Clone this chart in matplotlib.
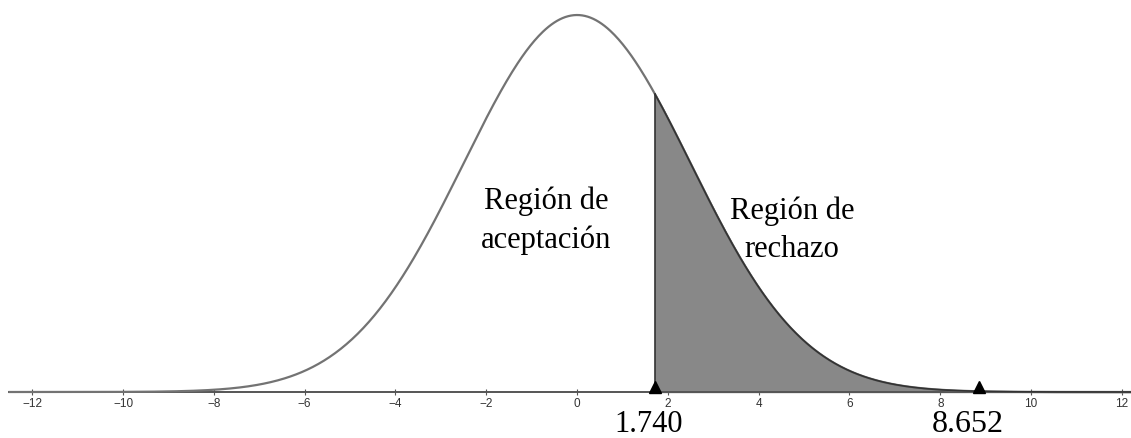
# Normal curve with acceptance / rejection regions
import numpy as np
import matplotlib.pyplot as plt
from matplotlib.transforms import offset_copy

mu = 0.0
sigma = 2.5
x_crit = 1.72      # position of the left marker
x_obs = 8.85       # position of the right marker
crit_label = "1.740"
obs_label = "8.652"
ticks = list(range(-12, 13, 2))

x = np.linspace(-12.5, 12.2, 800)
y = np.exp(-0.5 * ((x - mu) / sigma) ** 2) / (sigma * np.sqrt(2 * np.pi))

fig = plt.figure(figsize=(11.31, 4.39), dpi=100)
ax = fig.add_axes([0, 0, 1, 1])
ax.set_xlim(-12.71, 12.20)
ax.set_ylim(-0.01947, 0.16636)

# curve
ax.plot(x, y, color="#737373", linewidth=1.6, zorder=3)

# shaded rejection region
mask = x >= x_crit
ax.fill_between(x[mask], 0, y[mask], color="#888888", zorder=2)
ax.plot(x[mask], y[mask], color="#333333", linewidth=1.2, zorder=4)
ax.plot([x_crit, x_crit], [0, np.interp(x_crit, x, y)], color="#333333", linewidth=1.2, zorder=4)

# axis
for s in ["left", "right", "top"]:
    ax.spines[s].set_visible(False)
ax.spines["bottom"].set_position(("data", 0))
ax.spines["bottom"].set_bounds(-12.51, 12.2)
ax.spines["bottom"].set_color("#555555")
ax.spines["bottom"].set_linewidth(1.4)
ax.set_yticks([])
ax.set_xticks(ticks)
ax.set_xticklabels([str(t).replace("-", "\u2212") for t in ticks],
                   fontsize=8.5, color="#333333", family="Liberation Sans")
ax.tick_params(axis="x", direction="inout", length=5, width=0.8, color="#555555", pad=1)

# markers
tri = offset_copy(ax.transData, fig=fig, y=3.5, units="points")
ax.plot([x_crit, x_obs], [0, 0], linestyle="none", marker="^", markersize=8,
        color="black", transform=tri, zorder=5, clip_on=False)

serif = dict(family="Liberation Serif", color="black")
ax.annotate(crit_label, xy=(x_crit, 0), xytext=(-5, -28), textcoords="offset points",
            ha="center", va="baseline", fontsize=22, **serif)
ax.annotate(obs_label, xy=(x_obs, 0), xytext=(-8, -28), textcoords="offset points",
            ha="center", va="baseline", fontsize=23, **serif)

ax.text(-0.68, 0.0730, "Región de\naceptación", ha="center", va="center",
        fontsize=22, linespacing=1.4, **serif)
ax.text(4.74, 0.0690, "Región de\nrechazo", ha="center", va="center",
        fontsize=22, linespacing=1.4, **serif)

fig.savefig("out.png", dpi=100)
